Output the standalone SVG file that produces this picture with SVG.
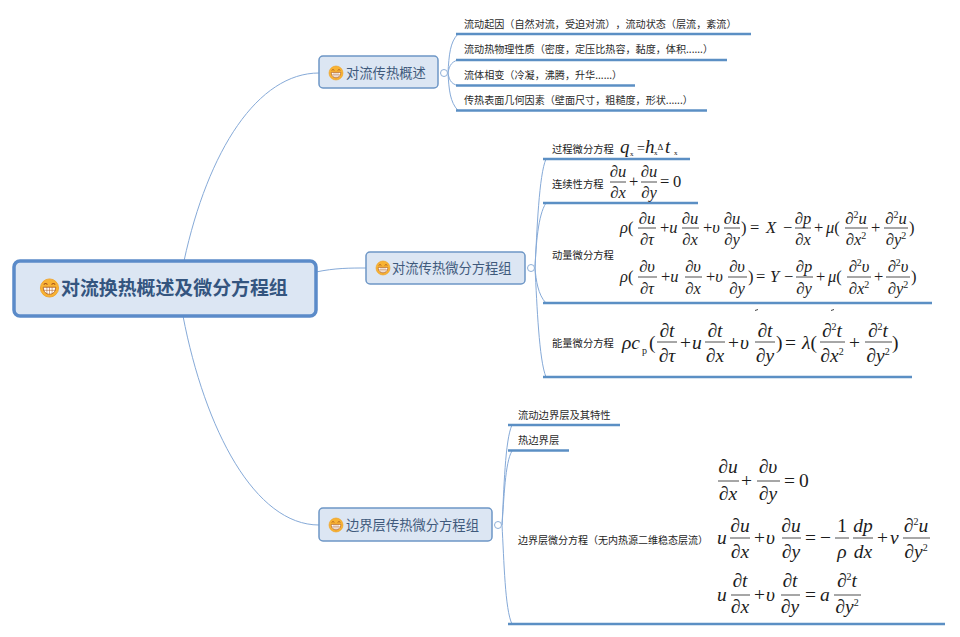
<svg xmlns="http://www.w3.org/2000/svg" width="960" height="637" viewBox="0 0 960 637">
<style>
text{font-family:"Noto Sans CJK SC","Noto Sans",sans-serif;fill:#333;font-kerning:none;font-feature-settings:"chws" 0,"palt" 0,"kern" 0;text-spacing-trim:space-all}
.root{font-size:18.900px;font-weight:700;fill:#34557f}
.topic{font-size:13.300px;fill:#3f5a7c}
.l{font-size:10.100px;fill:#2b2b2b}
.rb{fill:#dce6f3;stroke:#5b8bc9;stroke-width:3.5}
.tb{fill:#dce6f3;stroke:#6d96c6;stroke-width:1.5}
.c{fill:none;stroke:#86aad8;stroke-width:1}
.u{fill:none;stroke:#5b8fc4;stroke-width:2.5}
.o{fill:#fff;stroke:#8fb0d8;stroke-width:1}
.b{fill:none;stroke:#222;stroke-width:.8}
.e text{font-family:"Liberation Serif","DejaVu Serif",serif;font-style:italic;fill:#1c1c1c}
.e .r{font-style:normal}
.e .m{text-anchor:middle}
.e1{font-size:16.500px}
.e2{font-size:19.500px}
.e .s{font-size:10px;font-style:normal}
.e .t{font-size:7px;font-style:normal}
</style>
<defs>
<g id="emoji">
<circle r="7" fill="#f8b334" stroke="#ef9d1e" stroke-width=".6"/>
<path d="M-4.8 -.6H4.8C4.6 3.2 2.4 4.8 0 4.8S-4.6 3.2-4.8-.6Z" fill="#fff" stroke="#a8551c" stroke-width=".6"/>
<path d="M-4.6 1.8H4.6M-2 -.6V4.5M0 -.6V4.8M2 -.6V4.5" stroke="#a8551c" stroke-width=".4" fill="none"/>
<path d="M-4.4 -2.6Q-3 -4.4-1.6 -2.6M1.6 -2.6Q3 -4.4 4.4 -2.6" stroke="#a8551c" stroke-width=".8" fill="none"/>
</g>
</defs>
<rect width="960" height="637" fill="#fff"/>

<g id="connectors">
<path class="c" d="M184 261C208 150 258 73 319 73"/>
<path class="c" d="M316 272C335 268 350 268 366 268"/>
<path class="c" d="M183 316C205 430 255 525 319 525"/>
<path class="c" d="M448 73C449 55 450 42 458 34"/>
<path class="c" d="M448 73C449 68 450 62 458 60"/>
<path class="c" d="M448 73C449 78 450 84 458 85.500"/>
<path class="c" d="M448 73C449 90 450 102 458 110.500"/>
<path class="c" d="M535 268C537 230 539 175 546 159"/>
<path class="c" d="M535 268C536 245 538 215 546 203"/>
<path class="c" d="M535 268C536 280 538 295 546 303"/>
<path class="c" d="M535 268C537 305 539 360 546 377"/>
<path class="c" d="M502 525C504 490 505 440 512 425"/>
<path class="c" d="M502 525C504 500 505 462 512 451"/>
<path class="c" d="M502 525C504 560 505 610 512 624"/>
</g>

<g id="root"><rect class="rb" x="14" y="261" width="302" height="55" rx="6"/><use href="#emoji" transform="translate(49.500 288) scale(1.300)"/><text class="root" x="61" y="295">对流换热概述及微分方程组</text></g>

<g id="topic1"><rect class="tb" x="319" y="56" width="119" height="32" rx="4"/><use href="#emoji" x="336" y="73"/><text class="topic" x="346" y="78">对流传热概述</text><circle class="o" cx="444" cy="73" r="3.500"/></g>
<g id="topic2"><rect class="tb" x="366" y="252" width="159" height="32" rx="4"/><use href="#emoji" x="383" y="268"/><text class="topic" x="392" y="273">对流传热微分方程组</text><circle class="o" cx="531" cy="268" r="3.500"/></g>
<g id="topic3"><rect class="tb" x="319" y="508" width="173" height="33" rx="4"/><use href="#emoji" x="336" y="525"/><text class="topic" x="346" y="530">边界层传热微分方程组</text><circle class="o" cx="498" cy="525" r="3.500"/></g>

<g id="n1"><text class="l" x="464" y="28">流动起因（自然对流，受迫对流），流动状态（层流，紊流）</text><path class="u" d="M456 34H751"/></g>
<g id="n2"><text class="l" x="464" y="53">流动热物理性质（密度，定压比热容，黏度，体积......）</text><path class="u" d="M456 60H727"/></g>
<g id="n3"><text class="l" x="464" y="79">流体相变（冷凝，沸腾，升华......）</text><path class="u" d="M456 85.500H635"/></g>
<g id="n4"><text class="l" x="464" y="104">传热表面几何因素（壁面尺寸，粗糙度，形状......）</text><path class="u" d="M456 110.500H707"/></g>

<g id="n5" class="e"><text class="l" x="552" y="153" style="font-family:'Noto Sans CJK SC',sans-serif;font-style:normal;font-size:10.300px">过程微分方程</text><path class="u" d="M543 159H690"/>
<g style="font-size:19px"><text x="620" y="153">q</text><text class="t" x="630" y="156">x</text><text class="r" x="637" y="153" style="font-size:14px">=</text><text x="645" y="153">h</text><text class="t" x="654" y="155">x</text><text class="r" x="657.500" y="150" style="font-size:9px">Δ</text><text x="665" y="153">t</text><text class="t" x="674" y="155">x</text></g></g>

<g id="n6" class="e"><text class="l" x="552" y="188" style="font-family:'Noto Sans CJK SC',sans-serif;font-style:normal;font-size:10.300px">连续性方程</text><path class="u" d="M543 203H698"/>
<g class="e1"><path class="b" d="M610 182H626M641 182H657"/><text class="m" x="618" y="177">∂u</text><text class="m" x="618" y="198">∂x</text><text class="r" x="629" y="187">+</text><text class="m" x="649" y="177">∂u</text><text class="m" x="649" y="198">∂y</text><text class="r" x="660" y="187">=</text><text class="r" x="673" y="187">0</text></g></g>

<g id="n7" class="e"><text class="l" x="552" y="259" style="font-family:'Noto Sans CJK SC',sans-serif;font-style:normal;font-size:10.300px">动量微分方程</text><path class="u" d="M543 303H932"/>
<path d="M755 310.500L758 309.500M831 310.500L834 309.500" stroke="#444" stroke-width="1"/>
<g class="e1"><path class="b" d="M638 228H656M682 228H699M724 228H740M795 228H811M845 228H868M884 228H908"/>
<text x="620" y="233">ρ<tspan class="r">(</tspan></text><text class="m" x="647" y="224">∂u</text><text class="m" x="647" y="245">∂τ</text><text x="660" y="233"><tspan class="r">+</tspan>u</text><text class="m" x="690" y="224">∂u</text><text class="m" x="690" y="245">∂x</text><text x="703" y="233"><tspan class="r">+</tspan>υ</text><text class="m" x="732" y="224">∂u</text><text class="m" x="732" y="245">∂y</text><text class="r" x="741" y="233">)</text><text class="r" x="750" y="233">=</text><text x="766" y="233">X</text><text class="r" x="783" y="233">−</text><text class="m" x="803" y="224">∂p</text><text class="m" x="803" y="245">∂x</text><text class="r" x="814" y="233">+</text><text x="826" y="233">μ<tspan class="r">(</tspan></text><text class="m" x="856" y="224">∂<tspan class="s" dy="-6">2</tspan><tspan dy="6">u</tspan></text><text class="m" x="856" y="245">∂x<tspan class="s" dy="-6">2</tspan></text><text class="r" x="871" y="233">+</text><text class="m" x="896" y="224">∂<tspan class="s" dy="-6">2</tspan><tspan dy="6">u</tspan></text><text class="m" x="896" y="245">∂y<tspan class="s" dy="-6">2</tspan></text><text class="r" x="909" y="233">)</text>
<path class="b" d="M638 277H657M685 277H702M728 277H747M796 277H813M847 277H871M886 277H910"/>
<text x="620" y="282">ρ<tspan class="r">(</tspan></text><text class="m" x="647" y="272">∂υ</text><text class="m" x="647" y="294">∂τ</text><text x="661" y="282"><tspan class="r">+</tspan>u</text><text class="m" x="693" y="272">∂υ</text><text class="m" x="693" y="294">∂x</text><text x="706" y="282"><tspan class="r">+</tspan>υ</text><text class="m" x="737" y="272">∂υ</text><text class="m" x="737" y="294">∂y</text><text class="r" x="748" y="282">)</text><text class="r" x="756" y="282">=</text><text x="770" y="282">Y</text><text class="r" x="784" y="282">−</text><text class="m" x="804" y="272">∂p</text><text class="m" x="804" y="294">∂y</text><text class="r" x="816" y="282">+</text><text x="828" y="282">μ<tspan class="r">(</tspan></text><text class="m" x="859" y="272">∂<tspan class="s" dy="-6">2</tspan><tspan dy="6">υ</tspan></text><text class="m" x="859" y="294">∂x<tspan class="s" dy="-6">2</tspan></text><text class="r" x="874" y="282">+</text><text class="m" x="898" y="272">∂<tspan class="s" dy="-6">2</tspan><tspan dy="6">υ</tspan></text><text class="m" x="898" y="294">∂y<tspan class="s" dy="-6">2</tspan></text><text class="r" x="911" y="282">)</text></g></g>

<g id="n8" class="e"><text class="l" x="552" y="347" style="font-family:'Noto Sans CJK SC',sans-serif;font-style:normal;font-size:10.300px">能量微分方程</text><path class="u" d="M543 377H912"/>
<g class="e2"><path class="b" d="M657 342H677M705 342H725M755 342H775M820 342H845M865 342H892"/>
<text x="622" y="349">ρc</text><text class="s" x="642" y="354">p</text><text class="r" x="649" y="349">(</text><text class="m" x="667" y="337">∂t</text><text class="m" x="667" y="362">∂τ</text><text class="r" x="680" y="349">+</text><text x="692" y="349">u</text><text class="m" x="715" y="337">∂t</text><text class="m" x="715" y="362">∂x</text><text class="r" x="728" y="349">+</text><text x="740" y="349">υ</text><text class="m" x="765" y="337">∂t</text><text class="m" x="765" y="362">∂y</text><text class="r" x="776" y="349">)</text><text class="r" x="785" y="349">=</text><text x="802" y="349">λ<tspan class="r">(</tspan></text><text class="m" x="832" y="337">∂<tspan class="s" dy="-7">2</tspan><tspan dy="7">t</tspan></text><text class="m" x="832" y="362">∂x<tspan class="s" dy="-7">2</tspan></text><text class="r" x="849" y="349">+</text><text class="m" x="878" y="337">∂<tspan class="s" dy="-7">2</tspan><tspan dy="7">t</tspan></text><text class="m" x="878" y="362">∂y<tspan class="s" dy="-7">2</tspan></text><text class="r" x="892" y="349">)</text></g></g>

<g id="n9"><text class="l" x="518" y="419" style="font-size:10.300px">流动边界层及其特性</text><path class="u" d="M508 425H620"/></g>
<g id="n10"><text class="l" x="518" y="444" style="font-size:10.300px">热边界层</text><path class="u" d="M508 450.500H569"/></g>

<g id="n11" class="e"><text class="l" x="518" y="544" style="font-family:'Noto Sans CJK SC',sans-serif;font-style:normal;font-size:10px">边界层微分方程（无内热源二维稳态层流）</text><path class="u" d="M508 624H945"/>
<g class="e2"><path class="b" d="M718 481H739M757 481H780"/><text class="m" x="728" y="473">∂u</text><text class="m" x="728" y="500">∂x</text><text class="r" x="741" y="487">+</text><text class="m" x="768" y="473">∂υ</text><text class="m" x="768" y="500">∂y</text><text class="r" x="784" y="487">=</text><text class="r" x="799" y="487">0</text>
<path class="b" d="M730 538H750M782 538H801M835 538H849M853 538H873M903 538H930"/><text x="717" y="544">u</text><text class="m" x="740" y="532">∂u</text><text class="m" x="740" y="558">∂x</text><text class="r" x="754" y="544">+</text><text x="766" y="544">υ</text><text class="m" x="791" y="532">∂u</text><text class="m" x="791" y="558">∂y</text><text class="r" x="805" y="544">=</text><text class="r" x="820" y="544">−</text><text class="r m" x="842" y="532">1</text><text class="m" x="842" y="558">ρ</text><text class="m" x="863" y="532">dp</text><text class="m" x="863" y="558">dx</text><text class="r" x="877" y="544">+</text><text x="890" y="544">v</text><text class="m" x="916" y="532">∂<tspan class="s" dy="-7">2</tspan><tspan dy="7">u</tspan></text><text class="m" x="916" y="558">∂y<tspan class="s" dy="-7">2</tspan></text>
<path class="b" d="M731 595H750M781 595H800M834 595H861"/><text x="717" y="601">u</text><text class="m" x="740" y="587">∂t</text><text class="m" x="740" y="613">∂x</text><text class="r" x="754" y="601">+</text><text x="766" y="601">υ</text><text class="m" x="790" y="587">∂t</text><text class="m" x="790" y="613">∂y</text><text class="r" x="805" y="601">=</text><text x="820" y="601">a</text><text class="m" x="847" y="587">∂<tspan class="s" dy="-7">2</tspan><tspan dy="7">t</tspan></text><text class="m" x="847" y="613">∂y<tspan class="s" dy="-7">2</tspan></text></g></g>
</svg>
